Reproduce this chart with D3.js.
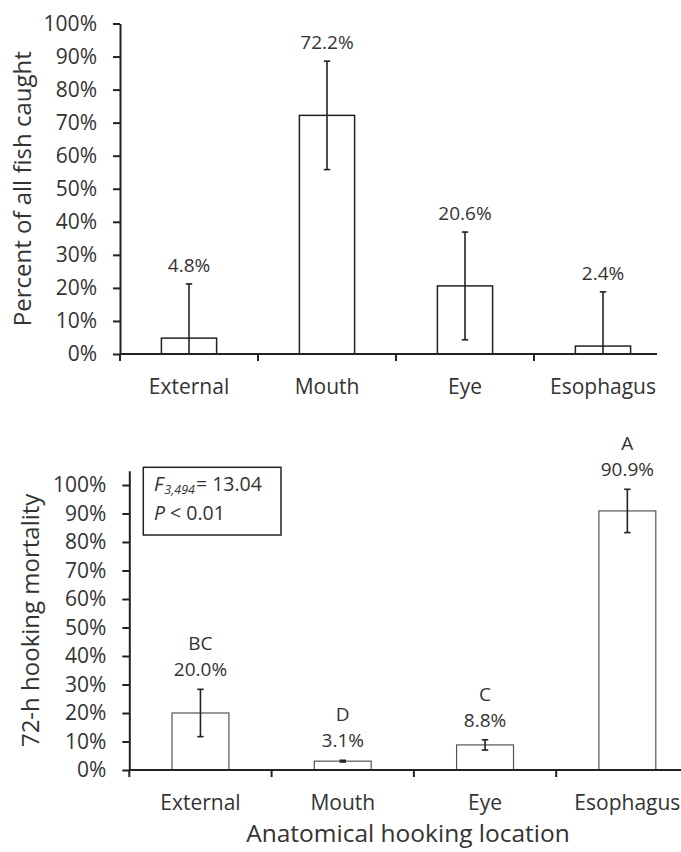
<!DOCTYPE html>
<html>
<head>
<meta charset="utf-8">
<script src="https://cdn.jsdelivr.net/npm/d3@7"></script>
<style>
  html, body { margin: 0; padding: 0; background: #fff; }
  svg { display: block; }
  text { font-family: "Open Sans", "Noto Sans", sans-serif; fill: #333; }
</style>
</head>
<body>
<div id="chart"></div>
<script>
// Hooking location categories (shared by both panels)
const categories = ["External", "Mouth", "Eye", "Esophagus"];

// Panel 1: share of all fish caught, with error half-widths (percent)
const caughtPct = [4.8, 72.2, 20.6, 2.4];
const caughtErr = [16.4, 16.4, 16.3, 16.4];

// Panel 2: 72-h hooking mortality, error half-widths and group letters
const mortalityPct = [20.0, 3.1, 8.8, 90.9];
const mortalityErr = [8.3, 0.3, 1.8, 7.6];
const groupLetters = ["BC", "D", "C", "A"];

// Y-axis tick values (percent)
const yTicks = d3.range(0, 101, 10);

const W = 681, H = 852;
const svg = d3.select("#chart").append("svg")
  .attr("width", W).attr("height", H)
  .attr("viewBox", `0 0 ${W} ${H}`);

const INK = "#222";

function drawPanel(opts) {
  const { left, right, top, bottom, yMax, lineEnd, values, errs, letters,
          yTitle, yTitleX, barStroke, barStrokeW, labelGap } = opts;
  const g = svg.append("g");

  const x = d3.scaleBand().domain(categories)
    .range([left, right]).paddingInner(0.6).paddingOuter(0.3);
  const y = d3.scaleLinear().domain([0, yMax]).range([bottom, top]);

  const rows = categories.map((c, i) => ({
    cat: c, v: values[i], e: errs[i], letter: letters ? letters[i] : null
  }));

  // Bars
  g.selectAll("rect.bar").data(rows).join("rect")
    .attr("class", "bar")
    .attr("x", d => x(d.cat))
    .attr("width", x.bandwidth())
    .attr("y", d => y(d.v))
    .attr("height", d => y(0) - y(d.v))
    .attr("fill", "#fff")
    .attr("stroke", barStroke)
    .attr("stroke-width", barStrokeW);

  // Error bars (lower end clipped at zero, no cap when clipped)
  const cx = d => x(d.cat) + x.bandwidth() / 2;
  const lo = d => Math.max(0, d.v - d.e);
  const hi = d => d.v + d.e;
  const cap = 3.2;
  const eb = g.selectAll("g.err").data(rows).join("g").attr("class", "err")
    .attr("stroke", INK).attr("stroke-width", 1.6);
  eb.append("line")
    .attr("x1", cx).attr("x2", cx)
    .attr("y1", d => y(lo(d))).attr("y2", d => y(hi(d)));
  eb.append("line")
    .attr("x1", d => cx(d) - cap).attr("x2", d => cx(d) + cap)
    .attr("y1", d => y(hi(d))).attr("y2", d => y(hi(d)));
  eb.filter(d => d.v - d.e > 0).append("line")
    .attr("x1", d => cx(d) - cap).attr("x2", d => cx(d) + cap)
    .attr("y1", d => y(lo(d))).attr("y2", d => y(lo(d)));

  // Value labels (and group letters) above the error bars
  g.selectAll("text.val").data(rows).join("text")
    .attr("class", "val")
    .attr("x", cx)
    .attr("y", d => y(hi(d)) - labelGap)
    .attr("text-anchor", "middle")
    .attr("font-size", 19)
    .text(d => d.v.toFixed(1) + "%");
  if (letters) {
    g.selectAll("text.grp").data(rows).join("text")
      .attr("class", "grp")
      .attr("x", cx)
      .attr("y", d => y(hi(d)) - labelGap - 26)
      .attr("text-anchor", "middle")
      .attr("font-size", 19)
      .text(d => d.letter);
  }

  // Y axis
  const yAxis = d3.axisLeft(y).tickValues(yTicks)
    .tickFormat(d => d + "%").tickSize(7).tickSizeOuter(0).tickPadding(16);
  const ya = g.append("g").attr("transform", `translate(${left},0)`).call(yAxis);
  ya.select(".domain").attr("stroke", INK).attr("stroke-width", 2);
  ya.selectAll(".tick line").attr("stroke", INK).attr("stroke-width", 2);
  ya.selectAll(".tick text").attr("font-size", 21).attr("fill", "#333")
    .attr("font-family", "\"Open Sans\", sans-serif");

  // X axis: category labels centred on bands, ticks at band boundaries
  const xAxis = d3.axisBottom(x).tickSize(0).tickPadding(25);
  const xa = g.append("g").attr("transform", `translate(0,${bottom})`).call(xAxis);
  xa.select(".domain").remove();
  xa.selectAll(".tick text").attr("font-size", 21).attr("fill", "#333")
    .attr("font-family", "\"Open Sans\", sans-serif");
  g.append("line")
    .attr("x1", left).attr("x2", lineEnd)
    .attr("y1", bottom).attr("y2", bottom)
    .attr("stroke", INK).attr("stroke-width", 2);
  const bounds = d3.range(0, categories.length).map(k => left + k * x.step());
  g.selectAll("line.sep").data(bounds).join("line")
    .attr("class", "sep")
    .attr("x1", d => d).attr("x2", d => d)
    .attr("y1", bottom).attr("y2", bottom + 7)
    .attr("stroke", INK).attr("stroke-width", 2);

  // Y-axis title
  const midY = (y(0) + y(yMax)) / 2;
  g.append("text")
    .attr("transform", `translate(${yTitleX},${midY}) rotate(-90)`)
    .attr("text-anchor", "middle")
    .attr("font-size", 24)
    .text(yTitle);

  return { x, y };
}

// Panel 1
drawPanel({
  left: 120, right: 672, top: 23.5, bottom: 354, yMax: 100, lineEnd: 657,
  values: caughtPct, errs: caughtErr, letters: null,
  yTitle: "Percent of all fish caught", yTitleX: 31,
  barStroke: "#222", barStrokeW: 1.5, labelGap: 12
});

// Panel 2
drawPanel({
  left: 129.3, right: 698.5, top: 470.75, bottom: 770, yMax: 105, lineEnd: 698.5,
  values: mortalityPct, errs: mortalityErr, letters: groupLetters,
  yTitle: "72-h hooking mortality", yTitleX: 39,
  barStroke: "#555", barStrokeW: 1.2, labelGap: 13
});

// Test statistic box
const box = svg.append("g");
box.append("rect")
  .attr("x", 143.3).attr("y", 467.3).attr("width", 137.7).attr("height", 67.7)
  .attr("fill", "#fff").attr("stroke", INK).attr("stroke-width", 1.5);
const l1 = box.append("text").attr("x", 154).attr("y", 491).attr("font-size", 19.5);
l1.append("tspan").attr("font-style", "italic").text("F");
l1.append("tspan").attr("font-style", "italic").attr("font-size", 12.5)
  .attr("dx", 1).attr("dy", 3).text("3,494");
l1.append("tspan").attr("dx", 1).attr("dy", -3).text("= 13.04");
const l2 = box.append("text").attr("x", 154).attr("y", 520).attr("font-size", 19.5);
l2.append("tspan").attr("font-style", "italic").text("P");
l2.append("tspan").text(" < 0.01");

// X-axis title
svg.append("text")
  .attr("x", 408).attr("y", 842)
  .attr("text-anchor", "middle")
  .attr("font-size", 24.5)
  .text("Anatomical hooking location");
</script>
</body>
</html>
